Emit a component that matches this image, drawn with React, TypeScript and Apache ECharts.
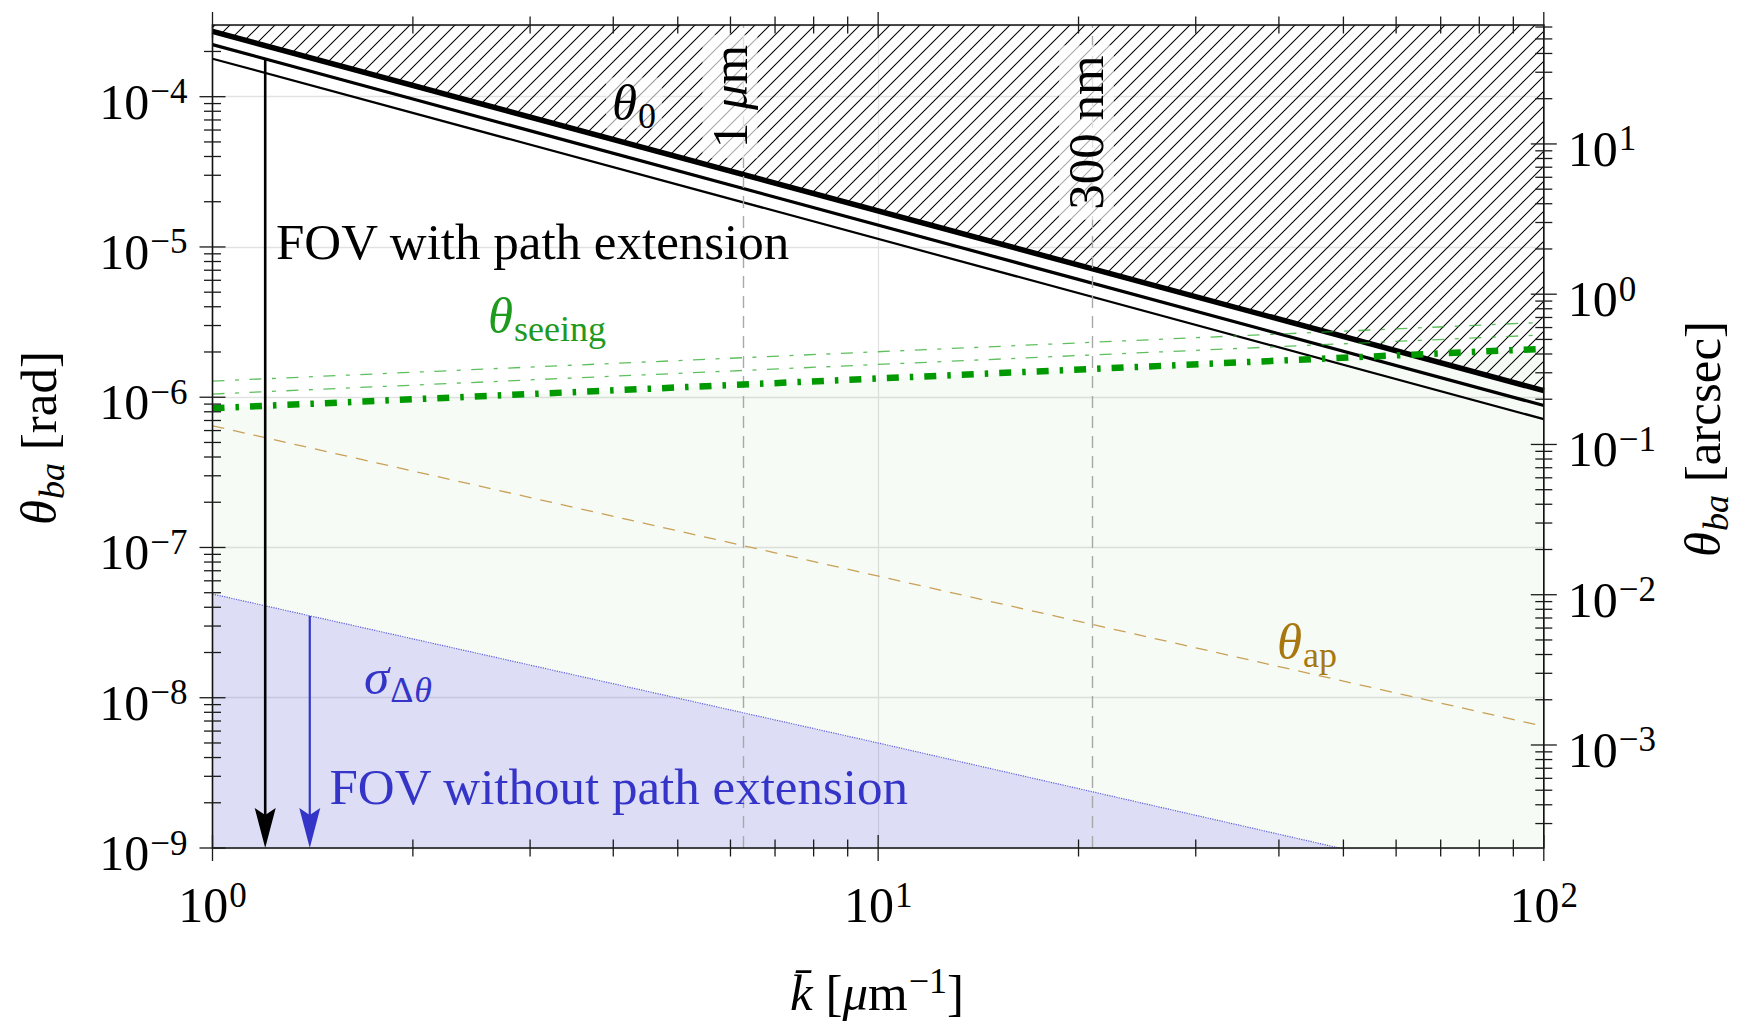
import React, { useEffect, useRef } from 'react';
import * as echarts from 'echarts';

// ---------- data ----------
const K_MIN = 1;
const K_MAX = 100;
const RAD_MIN = 1e-9;
const RAD_MAX = 3e-4;
const RAD_TO_ARCSEC = 206265;

// isoplanatic angle theta_0 (three variants, power laws -> straight on log-log)
const theta0Thick = [[1, 2.72e-4], [100, 1.107e-6]];
const theta0Mid = [[1, 2.22e-4], [100, 8.8e-7]];
const theta0Thin = [[1, 1.79e-4], [100, 7.15e-7]];
// seeing
const seeingThick = [[1, 8.45e-7], [100, 2.1e-6]];
const seeingMid = [[1, 1.05e-6], [100, 2.6e-6]];
const seeingTop = [[1, 1.28e-6], [100, 3.15e-6]];
// aperture
const thetaAp = [[1, 6.45e-7], [100, 6.45e-9]];
// sigma_Delta_theta
const sigmaDTheta = [[1, 4.9e-8], [10, 5.0e-9], [100, 4.9e-10]];
// wavelength markers (k = 2pi / lambda)
const wavelengthK = [6.283, 20.94];
const wavelengthLabels = ['1 μm', '300 nm'];
// FOV arrows: [k, from, to]
const fovArrows = [
  [1.2, 1.784e-4, 1e-9],
  [1.4, 3.5e-8, 1e-9],
];
// ticks
const xMajorTicks = [1, 10, 100];
const xMinorTicks = [2, 3, 4, 5, 6, 7, 8, 9, 20, 30, 40, 50, 60, 70, 80, 90];
const radMajorTicks = [1e-9, 1e-8, 1e-7, 1e-6, 1e-5, 1e-4];
const arcsecMajorTicks = [1e-3, 1e-2, 1e-1, 1, 10];

function minorTicks(e0: number, e1: number, lo: number, hi: number): number[] {
  const out: number[] = [];
  for (let e = e0; e <= e1; e++) {
    for (let m = 2; m <= 9; m++) {
      const v = m * Math.pow(10, e);
      if (v > lo * 1.0001 && v < hi * 0.9999) out.push(v);
    }
  }
  return out;
}
const radMinorTicks = minorTicks(-9, -4, RAD_MIN, RAD_MAX);
const arcsecMinorTicks = minorTicks(-4, 1, RAD_MIN * RAD_TO_ARCSEC, RAD_MAX * RAD_TO_ARCSEC);

// ---------- styles ----------
const FONT = '"Liberation Serif", "Times New Roman", Times, serif';
const BLUE = '#3434c8';
const GREEN_TXT = '#1e9a1e';
const GOLD_TXT = '#a87810';
const MAIN = 51;

const tickRich = {
  b: { fontFamily: FONT, fontSize: 50, lineHeight: 50, padding: [10, 0, 0, 0], color: '#000' },
  s: { fontFamily: FONT, fontSize: 35, lineHeight: 35, padding: [0, 0, 10, 1], color: '#000' },
};

function powLabel(v: number): string {
  const e = Math.log10(v);
  const r = Math.round(e);
  if (Math.abs(e - r) > 1e-6) return '';
  const ex = r < 0 ? '\u2212' + -r : String(r);
  return '{b|10}{s|' + ex + '}';
}

function richMain(fill: string) {
  return {
    r: { fontFamily: FONT, fontSize: MAIN, lineHeight: MAIN, fill },
    i: { fontFamily: FONT, fontSize: MAIN, lineHeight: MAIN, fontStyle: 'italic', fill },
    sr: { fontFamily: FONT, fontSize: 36, lineHeight: 36, padding: [26, 0, 0, 1], fill },
    si: { fontFamily: FONT, fontSize: 36, lineHeight: 36, padding: [26, 0, 0, 1], fontStyle: 'italic', fill },
    pr: { fontFamily: FONT, fontSize: 36, lineHeight: 36, padding: [0, 0, 24, 1], fill },
  };
}

function txt(x: number, y: number, text: string, fill: string, extra: any = {}, styleExtra: any = {}) {
  return {
    type: 'text',
    x,
    y,
    z: 100,
    silent: true,
    ...extra,
    style: {
      text,
      fill,
      fontFamily: FONT,
      fontSize: MAIN,
      align: 'left',
      verticalAlign: 'middle',
      textAlign: 'left',
      textVerticalAlign: 'middle',
      rich: richMain(fill),
      ...styleExtra,
    },
  };
}

function makeHatch(): HTMLCanvasElement {
  const c = document.createElement('canvas');
  const s = 15;
  c.width = s;
  c.height = s;
  const ctx = c.getContext('2d')!;
  ctx.strokeStyle = '#000';
  ctx.lineWidth = 1.05;
  ctx.beginPath();
  ctx.moveTo(-2, s + 2);
  ctx.lineTo(s + 2, -2);
  ctx.moveTo(-2, 2);
  ctx.lineTo(2, -2);
  ctx.moveTo(s - 2, s + 2);
  ctx.lineTo(s + 2, s - 2);
  ctx.stroke();
  return c;
}

export default function App() {
  const ref = useRef<HTMLDivElement>(null);

  useEffect(() => {
    if (!ref.current) return;
    const chart = echarts.init(ref.current, undefined, { renderer: 'svg' });
    const hatch = makeHatch();

    const tickStyle = { stroke: '#1a1a1a', lineWidth: 1.3 };
    const xTickData = [
      ...xMajorTicks.map((v) => [v, RAD_MIN, 1]),
      ...xMinorTicks.map((v) => [v, RAD_MIN, 0]),
    ];
    const yTickData = [
      ...radMajorTicks.map((v) => [K_MIN, v, 1]),
      ...radMinorTicks.map((v) => [K_MIN, v, 0]),
    ];
    const y2TickData = [
      ...arcsecMajorTicks.map((v) => [K_MAX, v, 1]),
      ...arcsecMinorTicks.map((v) => [K_MAX, v, 0]),
    ];

    const option: any = {
      animation: false,
      backgroundColor: '#fff',
      textStyle: { fontFamily: FONT },
      grid: { left: 212.5, right: 219.2, top: 25, bottom: 177, containLabel: false },
      xAxis: [
        {
          type: 'log',
          logBase: 10,
          min: K_MIN,
          max: K_MAX,
          splitNumber: 2,
          position: 'bottom',
          axisLine: { show: false },
          axisTick: { show: false },
          minorTick: { show: false },
          splitLine: { show: true, lineStyle: { color: '#e2e2e2', width: 1.3 } },
          axisLabel: { formatter: powLabel, rich: tickRich, margin: 27 },
        },
      ],
      yAxis: [
        {
          type: 'log',
          logBase: 10,
          min: RAD_MIN,
          max: RAD_MAX,
          splitNumber: 5,
          position: 'left',
          axisLine: { show: false },
          axisTick: { show: false },
          splitLine: { show: true, lineStyle: { color: '#e2e2e2', width: 1.3 } },
          axisLabel: { formatter: powLabel, rich: tickRich, margin: 25 },
        },
        {
          type: 'log',
          logBase: 10,
          min: RAD_MIN * RAD_TO_ARCSEC,
          max: RAD_MAX * RAD_TO_ARCSEC,
          splitNumber: 5,
          position: 'right',
          axisLine: { show: false },
          axisTick: { show: false },
          splitLine: { show: false },
          axisLabel: { formatter: powLabel, rich: tickRich, margin: 24 },
        },
      ],
      series: [
        // green region below seeing
        {
          type: 'line',
          z: 1,
          data: seeingThick,
          symbol: 'none',
          silent: true,
          lineStyle: { opacity: 0 },
          areaStyle: { color: 'rgba(0,140,0,0.05)', origin: 'start' },
        },
        // sigma region
        {
          type: 'line',
          z: 1,
          data: sigmaDTheta,
          symbol: 'none',
          silent: true,
          lineStyle: { color: '#6060dd', width: 1.2, type: 'dotted' },
          areaStyle: { color: 'rgba(95,75,245,0.23)', origin: 'start' },
        },
        // hatched region above theta_0
        {
          type: 'line',
          z: 2,
          data: theta0Thick,
          symbol: 'none',
          silent: true,
          lineStyle: { opacity: 0 },
          areaStyle: { color: { image: hatch, repeat: 'repeat' }, origin: 'end', opacity: 1 },
        },
        // aperture line + wavelength markers
        {
          type: 'line',
          z: 3,
          data: thetaAp,
          symbol: 'none',
          silent: true,
          lineStyle: { color: '#c9a055', width: 1.3, type: [12, 9] },
          markLine: {
            silent: true,
            symbol: ['none', 'none'],
            label: { show: false },
            lineStyle: { color: '#a8a8a8', width: 1.4, type: [12, 8] },
            data: wavelengthK.map((k) => ({ xAxis: k })),
          },
        },
        // theta_0 lines
        { type: 'line', z: 4, data: theta0Thin, symbol: 'none', silent: true, lineStyle: { color: '#000', width: 2.2 } },
        { type: 'line', z: 4, data: theta0Mid, symbol: 'none', silent: true, lineStyle: { color: '#000', width: 3.2 } },
        { type: 'line', z: 4, data: theta0Thick, symbol: 'none', silent: true, lineStyle: { color: '#000', width: 5.5 } },
        // seeing lines
        {
          type: 'line', z: 5, data: seeingTop, symbol: 'none', silent: true,
          lineStyle: { color: 'rgba(40,170,40,0.75)', width: 1.3, type: [12, 10.5, 4, 10.5] },
        },
        {
          type: 'line', z: 5, data: seeingMid, symbol: 'none', silent: true,
          lineStyle: { color: 'rgba(40,170,40,0.75)', width: 1.3, type: [12, 10.5, 4, 10.5] },
        },
        {
          type: 'line', z: 5, data: seeingThick, symbol: 'none', silent: true,
          lineStyle: { color: '#009900', width: 6.5, type: [12, 11, 3.5, 11] },
        },
        // FOV arrows
        {
          type: 'custom',
          z: 6,
          silent: true,
          clip: false,
          data: fovArrows,
          encode: { x: 0, y: 1 },
          renderItem: (params: any, api: any) => {
            const k = api.value(0);
            const p1 = api.coord([k, api.value(1)]);
            const p2 = api.coord([k, api.value(2)]);
            const black = params.dataIndex === 0;
            const color = black ? '#000' : BLUE;
            const hl = 40;
            const hw = 10.5;
            const notch = 7;
            return {
              type: 'group',
              children: [
                {
                  type: 'line',
                  shape: { x1: p1[0], y1: p1[1], x2: p2[0], y2: p2[1] - hl + notch },
                  style: { stroke: color, lineWidth: black ? 2.6 : 2.2 },
                },
                {
                  type: 'polygon',
                  shape: {
                    points: [
                      [p2[0], p2[1]],
                      [p2[0] - hw, p2[1] - hl],
                      [p2[0], p2[1] - hl + notch],
                      [p2[0] + hw, p2[1] - hl],
                    ],
                  },
                  style: { fill: color },
                },
              ],
            };
          },
        },
        // frame
        {
          type: 'custom',
          z: 10,
          silent: true,
          clip: false,
          data: [[K_MIN, RAD_MIN]],
          renderItem: (params: any, api: any) => {
            const a = api.coord([K_MIN, RAD_MIN]);
            const b = api.coord([K_MAX, RAD_MAX]);
            return {
              type: 'rect',
              shape: { x: a[0], y: b[1], width: b[0] - a[0], height: a[1] - b[1] },
              style: { fill: 'none', stroke: '#111', lineWidth: 1.6 },
            };
          },
        },
        // x ticks (bottom + top)
        {
          type: 'custom',
          z: 10,
          silent: true,
          clip: false,
          data: xTickData,
          encode: { x: 0, y: 1 },
          renderItem: (params: any, api: any) => {
            const v = api.value(0);
            const L = api.value(2) ? 13 : 8.5;
            const pb = api.coord([v, RAD_MIN]);
            const pt = api.coord([v, RAD_MAX]);
            return {
              type: 'group',
              children: [
                { type: 'line', shape: { x1: pb[0], y1: pb[1] - L, x2: pb[0], y2: pb[1] + L }, style: tickStyle },
                { type: 'line', shape: { x1: pt[0], y1: pt[1] - L, x2: pt[0], y2: pt[1] + L }, style: tickStyle },
              ],
            };
          },
        },
        // left y ticks
        {
          type: 'custom',
          z: 10,
          silent: true,
          clip: false,
          data: yTickData,
          encode: { x: 0, y: 1 },
          renderItem: (params: any, api: any) => {
            const v = api.value(1);
            const L = api.value(2) ? 13 : 8.5;
            const p = api.coord([K_MIN, v]);
            return { type: 'line', shape: { x1: p[0] - L, y1: p[1], x2: p[0] + L, y2: p[1] }, style: tickStyle };
          },
        },
        // right y ticks (arcsec)
        {
          type: 'custom',
          z: 10,
          silent: true,
          clip: false,
          yAxisIndex: 1,
          data: y2TickData,
          encode: { x: 0, y: 1 },
          renderItem: (params: any, api: any) => {
            const v = api.value(1);
            const L = api.value(2) ? 13 : 8.5;
            const p = api.coord([K_MAX, v]);
            return { type: 'line', shape: { x1: p[0] - L, y1: p[1], x2: p[0] + L, y2: p[1] }, style: tickStyle };
          },
        },
      ],
      graphic: [
        txt(276, 242, 'FOV with path extension', '#000', {}, { rich: undefined }),
        txt(329.5, 787, 'FOV without path extension', BLUE, {}, { rich: undefined }),
        txt(606, 103, '{i|θ}{sr|0}', '#000', {}, { backgroundColor: 'rgba(255,255,255,0.6)', padding: [0, 6] }),
        txt(488, 316, '{i|θ}{sr|seeing}', GREEN_TXT),
        txt(364, 677, '{i|σ}{sr|Δ}{si|θ}', BLUE),
        txt(1277, 642, '{i|θ}{sr|ap}', GOLD_TXT),
        txt(730, 96.5, '{r|1 }{i|μ}{r|m}', '#000', { rotation: Math.PI / 2 }, {
          align: 'center', textAlign: 'center', backgroundColor: 'rgba(255,255,255,0.65)', padding: [2, 10],
        }),
        txt(1086.4, 132.5, '{r|' + wavelengthLabels[1] + '}', '#000', { rotation: Math.PI / 2 }, {
          align: 'center', textAlign: 'center', backgroundColor: 'rgba(255,255,255,0.65)', padding: [2, 10],
        }),
        txt(39, 438, '{i|θ}{si|ba}{r| [rad]}', '#000', { rotation: Math.PI / 2 }, { align: 'center', textAlign: 'center' }),
        txt(1703, 439, '{i|θ}{si|ba}{r| [arcsec]}', '#000', { rotation: Math.PI / 2 }, { align: 'center', textAlign: 'center' }),
        txt(877, 993, '{i|k\u0304}{r| [}{i|μ}{r|m}{pr|\u22121}{r|]}', '#000', {}, { align: 'center', textAlign: 'center' }),
      ],
    };

    chart.setOption(option);
    return () => {
      chart.dispose();
    };
  }, []);

  return (
    <div
      ref={ref}
      style={{ position: 'fixed', left: 0, top: 0, width: 1763, height: 1025, background: '#fff' }}
    />
  );
}
